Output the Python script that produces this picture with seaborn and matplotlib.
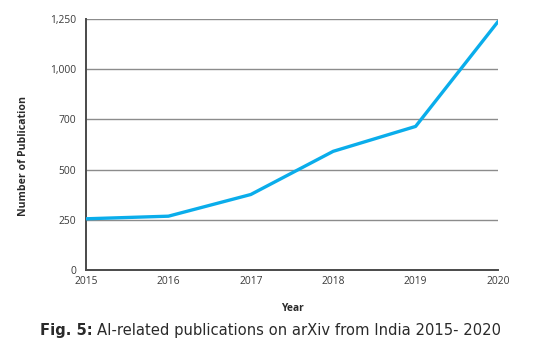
import matplotlib
matplotlib.use("Agg")
import matplotlib.pyplot as plt
import seaborn as sns
import pandas as pd
from matplotlib.ticker import FixedLocator, FixedFormatter

years = [2015, 2016, 2017, 2018, 2019, 2020]
publications = [255, 268, 376, 591, 715, 1237]
ytick_values = [0, 250, 500, 750, 1000, 1250]
ytick_labels = ["0", "250", "500", "700", "1,000", "1,250"]

sns.set_theme(style="white")
plt.rcParams['font.family'] = ['Open Sans', 'DejaVu Sans']

df = pd.DataFrame({"Year": years, "Number of Publication": publications})

fig = plt.figure(figsize=(5.53, 3.48), dpi=100)
ax = fig.add_axes([86/553, 78/348, (498-86)/553, (270-19)/348])

sns.lineplot(data=df, x="Year", y="Number of Publication", ax=ax,
             color="#0AADEB", linewidth=2.4, zorder=3)

ax.set_xlim(2015, 2020)
ax.set_ylim(0, 1250)
ax.xaxis.set_major_locator(FixedLocator(years))
ax.set_xticklabels([str(y) for y in years])
ax.yaxis.set_major_locator(FixedLocator(ytick_values))
ax.yaxis.set_major_formatter(FixedFormatter(ytick_labels))
ax.grid(axis="y", color="#8c8c8c", linewidth=1.0)
ax.set_axisbelow(True)
for s in ["top", "right"]:
    ax.spines[s].set_visible(False)
for s in ["left", "bottom"]:
    ax.spines[s].set_color("#4a4a4a")
    ax.spines[s].set_linewidth(1.4)
ax.tick_params(axis="both", length=0, labelsize=7.4, labelcolor="#3a3a3a")
ax.tick_params(axis="x", pad=4)
ax.tick_params(axis="y", pad=7)

ax.set_xlabel("Year", fontsize=7.4, fontweight="bold", color="#2a2a2a", labelpad=12)
ax.set_ylabel("Number of Publication", fontsize=7.6, fontweight="bold", color="#2a2a2a")
ax.yaxis.set_label_coords((29 - 86) / 412, (270 - 156) / 251)

# caption
fig.canvas.draw()
r = fig.canvas.get_renderer()
cap_font = ['DejaVu Sans']
cap_y = 1 - 331/348
t1 = fig.text(40/553, cap_y, "Fig. 5:", fontsize=10.6, fontweight="bold",
              family=cap_font, color="#2a2a2a", va="center", ha="left")
bb = t1.get_window_extent(renderer=r)
fig.text(bb.x1/553 + 4/553, cap_y, "AI-related publications on arXiv from India 2015- 2020",
         fontsize=10.6, family=cap_font, color="#2a2a2a", va="center", ha="left")

fig.savefig("out.png", dpi=100)
